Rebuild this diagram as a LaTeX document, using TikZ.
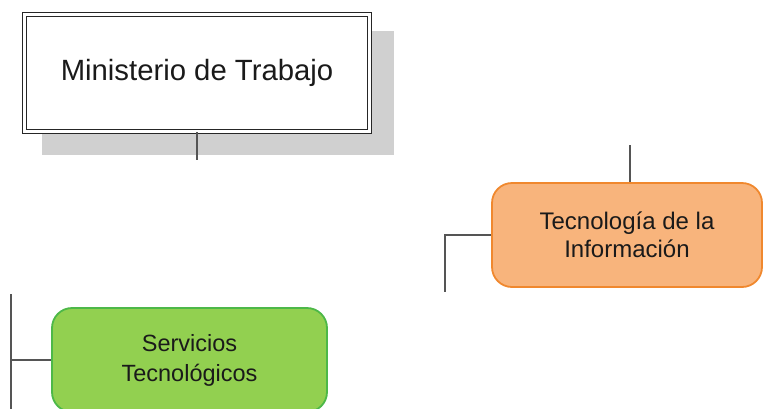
\documentclass[tikz,border=0pt]{standalone}
\usepackage{fontspec}
\setmainfont{Liberation Sans}
\definecolor{linegray}{HTML}{555555}
\definecolor{orfill}{HTML}{F8B47C}
\definecolor{ordraw}{HTML}{F0882E}
\definecolor{grfill}{HTML}{92D050}
\definecolor{grdraw}{HTML}{4DB848}
\definecolor{shadowgray}{HTML}{D0D0D0}
\definecolor{txt}{HTML}{1A1A1A}
\begin{document}
\begin{tikzpicture}[x=1pt,y=-1pt,
  conn/.style={draw=linegray,line width=1.6pt},
  topbox/.style={rectangle,draw=black!85,double=white,double distance=3pt,line width=1.1pt,fill=white,minimum width=345pt,minimum height=117pt,inner sep=0pt,font=\fontsize{29.3}{33}\selectfont,text=txt},
  orbox/.style={rectangle,rounded corners=20pt,draw=ordraw,line width=1.8pt,fill=orfill,minimum width=270pt,minimum height=104pt,inner sep=0pt,align=center,font=\fontsize{24}{28}\selectfont,text=txt},
  grbox/.style={rectangle,rounded corners=20pt,draw=grdraw,line width=1.8pt,fill=grfill,minimum width=275pt,minimum height=104pt,inner sep=0pt,align=center,font=\fontsize{23.5}{30}\selectfont,text=txt}]
\useasboundingbox (0,0) rectangle (763,408);
\clip (0,0) rectangle (763,408);
% shadow of top box
\fill[shadowgray] (42,31) rectangle (394,155);
\node[topbox] (min) at (197,73) {Ministerio de Trabajo};
\coordinate (minend) at (197,160);
\draw[conn] (min.south) -- (minend);
% orange box
\node[orbox] (ti) at (627,235) {Tecnología de la\\Información};
\coordinate (titop) at (630,145);
\draw[conn] (titop) -- (titop |- ti.north);
\coordinate (tiend) at (445,292);
\draw[conn] (ti.west) -| (tiend);
% green box
\node[grbox] (st) at (189.5,360) {Servicios\\Tecnológicos};
\coordinate (sttop) at (11,294);
\coordinate (stbot) at (11,410);
\coordinate (stmid) at (11,360);
\draw[conn] (sttop) -- (stbot);
\draw[conn] (stmid) -- (st.west);
\end{tikzpicture}
\end{document}
